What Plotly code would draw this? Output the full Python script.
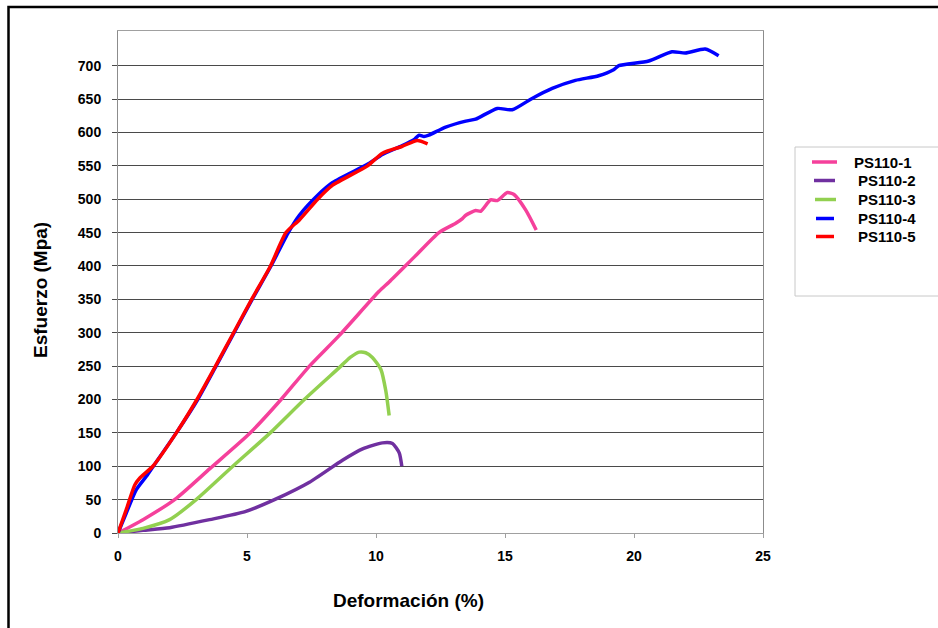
import plotly.graph_objects as go

# PS110-1
x1 = [0, 0.97, 2.26, 3.55, 5.1, 6.32, 7.42, 8.58, 10.12, 10.51, 11.5, 12.44, 13.09, 13.35, 13.48, 13.86, 14.06, 14.44, 14.7, 15.09, 15.35, 15.8, 16.21]
y1 = [0, 20, 52, 96, 149, 200, 250, 296, 362, 376, 414, 450, 464, 471, 476, 483, 482, 499, 498, 510, 507, 484, 454]
# PS110-2
x2 = [0, 0.97, 2.0, 3.55, 4.93, 6.13, 7.42, 8.7, 9.48, 10.25, 10.64, 10.9, 11.0]
y2 = [0, 4, 8, 20, 32, 51, 76, 109, 126, 135, 134, 120, 100]
# PS110-3
x3 = [0, 0.97, 2.0, 3.03, 4.45, 5.9, 7.22, 8.64, 9.0, 9.35, 9.6, 9.86, 10.19, 10.38, 10.51]
y3 = [0, 7, 20, 50, 100, 150, 200, 250, 263, 271, 270, 263, 245, 213, 176]
# PS110-4
x4 = [0, 0.32, 0.71, 1.1, 1.35, 2.26, 3.09, 3.8, 4.5, 5.2, 5.93, 6.6, 7.03, 7.74, 8.32, 9.7, 10.25, 11.0, 11.5,
      11.67, 11.86, 12.05, 12.7, 13.48, 13.86, 14.7, 15.28, 16.05, 16.83, 17.73, 18.63, 19.21, 19.41, 20.57,
      21.47, 21.99, 22.76, 23.28]
y4 = [0, 30, 65, 85, 99, 150, 200, 250, 300, 350, 400, 450, 476, 506, 525, 553, 567, 580, 590,
      596, 594, 596, 608, 617, 620, 636, 634, 651, 666, 678, 685, 694, 700, 707,
      721, 719, 725, 715]
# PS110-5
x5 = [0, 0.32, 0.65, 0.84, 1.35, 2.26, 3.06, 3.78, 4.48, 5.18, 5.91, 6.51, 7.03, 7.74, 8.32, 9.67, 10.25, 11.0, 11.6, 12.0]
y5 = [0, 35, 72, 82, 100, 150, 200, 250, 300, 350, 400, 450, 469, 500, 521, 550, 569, 579, 588, 583]

names = ["PS110-1", "PS110-2", "PS110-3", "PS110-4", "PS110-5"]
colors = ["#f5409b", "#7030a0", "#92d050", "#0000ff", "#ff0000"]
xs = [x1, x2, x3, x4, x5]
ys = [y1, y2, y3, y4, y5]

x_ticks = [0, 5, 10, 15, 20, 25]
y_ticks = list(range(0, 701, 50))

fig = go.Figure()
for x, y, n, c in zip(xs, ys, names, colors):
    fig.add_trace(go.Scatter(x=x, y=y, name=n, mode="lines", showlegend=False,
                             line=dict(color=c, width=3.5, shape="spline", smoothing=0.6)))

W, H = 938, 628
L, R, T, B = 118, 175, 31, 95
pw, ph = W - L - R, H - T - B

def px(xp):
    return (xp - L) / pw

def py(yp):
    return (H - B - yp) / ph

font = "Liberation Sans, Arial, sans-serif"

shapes = [
    dict(type="rect", xref="paper", yref="paper", x0=px(795), x1=px(945), y0=py(296), y1=py(147),
         line=dict(color="#c8c8c8", width=1), fillcolor="rgba(0,0,0,0)"),
    dict(type="rect", xref="paper", yref="paper", x0=px(8.5), x1=px(960), y0=py(660), y1=py(7),
         line=dict(color="black", width=2.5), fillcolor="rgba(0,0,0,0)"),
]
annotations = [
    dict(text="Deformación (%)", xref="paper", yref="paper", x=px(408), y=py(601),
         xanchor="center", yanchor="middle", showarrow=False,
         font=dict(size=19, family=font, weight="bold")),
    dict(text="Esfuerzo (Mpa)", xref="paper", yref="paper", x=px(40), y=py(290),
         xanchor="center", yanchor="middle", showarrow=False, textangle=-90,
         font=dict(size=19, family=font, weight="bold")),
]

# legend (drawn as real text + line samples)
leg_y = [162, 180.5, 199.5, 218.5, 236.5]
leg_sx0 = [812, 814, 815, 816, 816]
leg_sx1 = [837, 835, 836, 834, 834]
leg_tx = [852, 856, 856, 856, 856]
for i, (n, c) in enumerate(zip(names, colors)):
    shapes.append(dict(type="line", xref="paper", yref="paper",
                       x0=px(leg_sx0[i]), x1=px(leg_sx1[i]), y0=py(leg_y[i]), y1=py(leg_y[i]),
                       line=dict(color=c, width=3.5)))
    annotations.append(dict(text=n, xref="paper", yref="paper", x=px(leg_tx[i]), y=py(leg_y[i]),
                            xanchor="left", yanchor="middle", showarrow=False,
                            font=dict(size=15, family=font, weight="bold")))

fig.update_layout(
    width=W, height=H,
    margin=dict(l=L, r=R, t=T, b=B, pad=0),
    paper_bgcolor="white", plot_bgcolor="white",
    font=dict(family=font, color="black"),
    showlegend=False,
    xaxis=dict(range=[0, 25], tickvals=x_ticks, showgrid=False, zeroline=False,
               showline=True, linecolor="#a0a0a0", linewidth=1, mirror=True,
               ticks="outside", ticklen=4, tickcolor="#a0a0a0",
               ticklabelstandoff=6,
               tickfont=dict(size=14, family=font, weight="bold")),
    yaxis=dict(range=[0, 752], tickvals=y_ticks, showgrid=True, gridcolor="#4a4a4a", gridwidth=1,
               zeroline=False, showline=True, linecolor="#8c8c8c", linewidth=1, mirror=True,
               ticks="outside", ticklen=5, tickcolor="#4a4a4a",
               ticklabelstandoff=8,
               tickfont=dict(size=14, family=font, weight="bold")),
    shapes=shapes,
    annotations=annotations,
)

fig.write_html("out.html")
